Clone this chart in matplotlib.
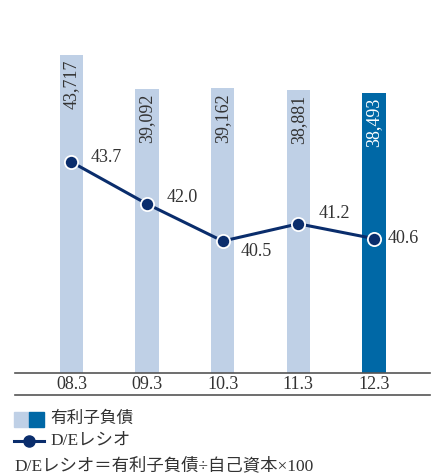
import matplotlib.pyplot as plt
from matplotlib.patches import Rectangle
from matplotlib.lines import Line2D

periods = ["08.3", "09.3", "10.3", "11.3", "12.3"]
debt = [43717, 39092, 39162, 38881, 38493]       # 有利子負債
de_ratio = [43.7, 42.0, 40.5, 41.2, 40.6]        # D/Eレシオ
label_offsets = [(19, 5), (19, 7), (18, -10), (20, 10), (14, 0)]

light = "#bfd0e6"
dark = "#0068a6"
navy = "#0a2d6c"
txt = "#333333"
serif = ["Liberation Serif", "Noto Sans CJK JP"]

fig = plt.figure(figsize=(4.38, 4.75), dpi=100)
W, H = 438, 475

# axes placed in pixel terms: x 15..430, y 20..373 (from top)
ax = fig.add_axes([15 / W, (H - 373) / H, 415 / W, 353 / H])
ax2 = ax.twinx()

x = list(range(len(periods)))
colors = [light] * (len(periods) - 1) + [dark]
ax.bar(x, debt, width=0.31, color=colors, zorder=1)
ax.set_xlim(-0.747, 4.74)
ax.set_ylim(0, 48528)

for i, v in enumerate(debt):
    ax.annotate(f"{v:,}", (i, v), xytext=(0, -5), textcoords="offset pixels",
                rotation=90, ha="center", va="top", fontsize=13,
                family=serif, color="white" if i == len(debt) - 1 else txt)

ax2.plot(x, de_ratio, color=navy, lw=2.2, marker="o", ms=9.5,
         mfc=navy, mec="white", mew=1.3, zorder=3)
ax2.set_ylim(35.16, 49.45)
for i, v in enumerate(de_ratio):
    dx, dy = label_offsets[i]
    ax2.annotate(f"{v:.1f}", (i, v), xytext=(dx, dy), textcoords="offset pixels",
                 ha="left", va="center", fontsize=13, family=serif, color=txt)

for a in (ax, ax2):
    for s in ("top", "left", "right"):
        a.spines[s].set_visible(False)
    a.set_yticks([])
ax.spines["bottom"].set_color("#555555")
ax.spines["bottom"].set_linewidth(1.2)
ax2.spines["bottom"].set_visible(False)
ax.set_xticks(x)
ax.set_xticklabels(periods, fontsize=13, family=serif, color=txt)
ax.tick_params(axis="x", length=0, pad=2.5)

# lower rule under the period labels
fig.add_artist(Line2D([15 / W, 430 / W], [(H - 395) / H] * 2,
                      color="#555555", lw=1.2))

# legend
fig.add_artist(Rectangle((14 / W, (H - 427) / H), 15 / W, 15 / H,
                         color=light, transform=fig.transFigure))
fig.add_artist(Rectangle((29 / W, (H - 427) / H), 15 / W, 15 / H,
                         color=dark, transform=fig.transFigure))
fig.text(50 / W, (H - 419) / H, "有利子負債", fontsize=12, family=serif,
         color=txt, va="center")
fig.add_artist(Line2D([14 / W, 44 / W], [(H - 441) / H] * 2, color=navy, lw=2.2))
fig.add_artist(Line2D([29 / W], [(H - 441) / H], marker="o", ms=8,
                      color=navy, mec=navy))
fig.text(50 / W, (H - 441) / H, "D/Eレシオ", fontsize=12.5, family=serif,
         color=txt, va="center")
fig.text(14 / W, (H - 466) / H, "D/Eレシオ＝有利子負債÷自己資本×100",
         fontsize=12.5, family=serif, color=txt, va="center")

fig.savefig("out.png", dpi=100)
